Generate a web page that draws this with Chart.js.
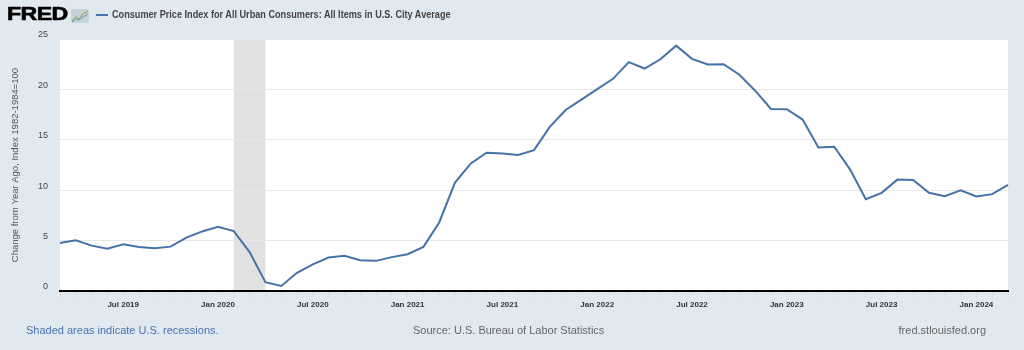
<!DOCTYPE html>
<html>
<head>
<meta charset="utf-8">
<script src="https://cdn.jsdelivr.net/npm/chart.js@4"></script>
<style>
  html, body { margin: 0; padding: 0; background: #e1e9f0; }
  #wrap { position: relative; width: 1024px; height: 350px; overflow: hidden; font-family: "Liberation Sans", Arial, sans-serif; }
  #chart { position: absolute; left: 0; top: 0; }
  .txt { position: absolute; white-space: nowrap; }
  #logo { left: 7px; top: 3px; font-size: 19px; font-weight: bold; color: #000; letter-spacing: -0.5px;
          transform: scaleX(1.22); transform-origin: left center; -webkit-text-stroke: 0.6px #000; }
  #icon { position: absolute; left: 71px; top: 9px; }
  #legline { position: absolute; left: 96px; top: 14px; width: 12px; height: 2px; background: #4572a7; }
  #title { left: 112px; top: 8px; font-size: 11px; font-weight: bold; color: #444;
           transform: scaleX(0.83); transform-origin: left center; }
  #note { left: 26px; top: 324px; font-size: 11px; color: #4a72ae; }
  #source { left: 413px; top: 324px; font-size: 11px; color: #666; }
  #site { right: 38px; top: 324px; font-size: 11px; color: #666; }
</style>
</head>
<body>
<div id="wrap">
  <canvas id="chart" width="1024" height="350"></canvas>
  <div class="txt" id="logo">FRED</div>
  <svg id="icon" width="18" height="14" viewBox="0 0 18 14">
    <rect x="0" y="0" width="18" height="14" rx="2" fill="#c9d2da"/>
    <polyline points="1,12 5,8 8,10 12,5 17,2" fill="none" stroke="#8fb86a" stroke-width="1.2"/>
    <polyline points="1,13 5,10 8,11 12,8 17,5" fill="none" stroke="#6f95c3" stroke-width="1"/>
  </svg>
  <div id="legline"></div>
  <div class="txt" id="title">Consumer Price Index for All Urban Consumers: All Items in U.S. City Average</div>
  <div class="txt" id="note">Shaded areas indicate U.S. recessions.</div>
  <div class="txt" id="source">Source: U.S. Bureau of Labor Statistics</div>
  <div class="txt" id="site">fred.stlouisfed.org</div>
</div>
<script>
'use strict';

// 月（カテゴリ）
const months = [
  'Mar 2019','Apr 2019','May 2019','Jun 2019','Jul 2019','Aug 2019','Sep 2019','Oct 2019','Nov 2019','Dec 2019',
  'Jan 2020','Feb 2020','Mar 2020','Apr 2020','May 2020','Jun 2020','Jul 2020','Aug 2020','Sep 2020','Oct 2020','Nov 2020','Dec 2020',
  'Jan 2021','Feb 2021','Mar 2021','Apr 2021','May 2021','Jun 2021','Jul 2021','Aug 2021','Sep 2021','Oct 2021','Nov 2021','Dec 2021',
  'Jan 2022','Feb 2022','Mar 2022','Apr 2022','May 2022','Jun 2022','Jul 2022','Aug 2022','Sep 2022','Oct 2022','Nov 2022','Dec 2022',
  'Jan 2023','Feb 2023','Mar 2023','Apr 2023','May 2023','Jun 2023','Jul 2023','Aug 2023','Sep 2023','Oct 2023','Nov 2023','Dec 2023',
  'Jan 2024','Feb 2024','Mar 2024'
];

// 前年比の値
const cpiChange = [
  4.77, 5.03, 4.50, 4.19, 4.63, 4.36, 4.23, 4.40, 5.30, 5.91,
  6.38, 5.94, 3.86, 0.87, 0.50, 1.81, 2.65, 3.32, 3.49, 3.05, 2.99, 3.36,
  3.65, 4.38, 6.80, 10.76, 12.66, 13.72, 13.65, 13.49, 13.98, 16.28, 17.96, 18.98,
  20.03, 21.05, 22.70, 22.07, 22.99, 24.34, 23.03, 22.48, 22.50, 21.45, 19.87, 18.06,
  18.03, 17.01, 14.24, 14.31, 12.07, 9.11, 9.74, 11.05, 11.02, 9.74, 9.41, 10.00,
  9.38, 9.61, 10.53
];

// 目盛りを出す月
const tickMonths = ['Jan', 'Jul'];
const yTicks = [0, 5, 10, 15, 20, 25];

// 景気後退期
const recessions = [['Feb 2020', 'Apr 2020']];

// 背景と景気後退の網掛け
const shadePlugin = {
  id: 'shade',
  beforeDraw(chart) {
    const {ctx, chartArea, scales} = chart;
    ctx.save();
    ctx.fillStyle = '#ffffff';
    ctx.fillRect(chartArea.left, chartArea.top, chartArea.right - chartArea.left, chartArea.bottom - chartArea.top);
    ctx.fillStyle = '#e1e1e1';
    recessions.forEach(r => {
      const x0 = scales.x.getPixelForValue(months.indexOf(r[0]));
      const x1 = scales.x.getPixelForValue(months.indexOf(r[1]));
      ctx.fillRect(x0, chartArea.top, x1 - x0, chartArea.bottom - chartArea.top);
    });
    ctx.restore();
  }
};

const ctx = document.getElementById('chart');
const chart = new Chart(ctx, {
  type: 'line',
  data: {
    labels: months,
    datasets: [{
      label: 'CPI',
      data: cpiChange,
      borderColor: '#4572a7',
      borderWidth: 2,
      pointRadius: 0,
      tension: 0,
      fill: false
    }]
  },
  options: {
    responsive: false,
    animation: false,
    devicePixelRatio: 1,
    layout: { padding: { top: 39, right: 16, left: 0, bottom: 0 } },
    plugins: { legend: { display: false }, tooltip: { enabled: false } },
    scales: {
      x: {
        offset: false,
        afterFit(scale) { scale.height = 59; },
        grid: { drawOnChartArea: false, drawTicks: true, tickLength: 6, color: '#dddddd' },
        border: { display: true, color: '#000000', width: 2 },
        ticks: {
          autoSkip: false,
          maxRotation: 0,
          padding: 3,
          color: '#333',
          font: { family: 'Liberation Sans', size: 8, weight: 'bold' },
          callback(value) {
            const m = months[value];
            return tickMonths.includes(m.slice(0, 3)) ? m : '';
          }
        }
      },
      y: {
        min: 0,
        max: 25,
        afterFit(scale) { scale.width = 60; },
        afterBuildTicks(scale) { scale.ticks = yTicks.map(v => ({ value: v })); },
        grid: { color: '#e8e8e8', drawTicks: false },
        border: { display: false },
        ticks: {
          padding: 12,
          labelOffset: -4,
          color: '#444',
          font: { family: 'Liberation Sans', size: 9 }
        },
        title: {
          display: true,
          text: 'Change from Year Ago, Index 1982-1984=100',
          color: '#555',
          padding: { top: 10, bottom: 0 },
          font: { family: 'Liberation Sans', size: 9.5 }
        }
      }
    }
  },
  plugins: [shadePlugin]
});
</script>
</body>
</html>
